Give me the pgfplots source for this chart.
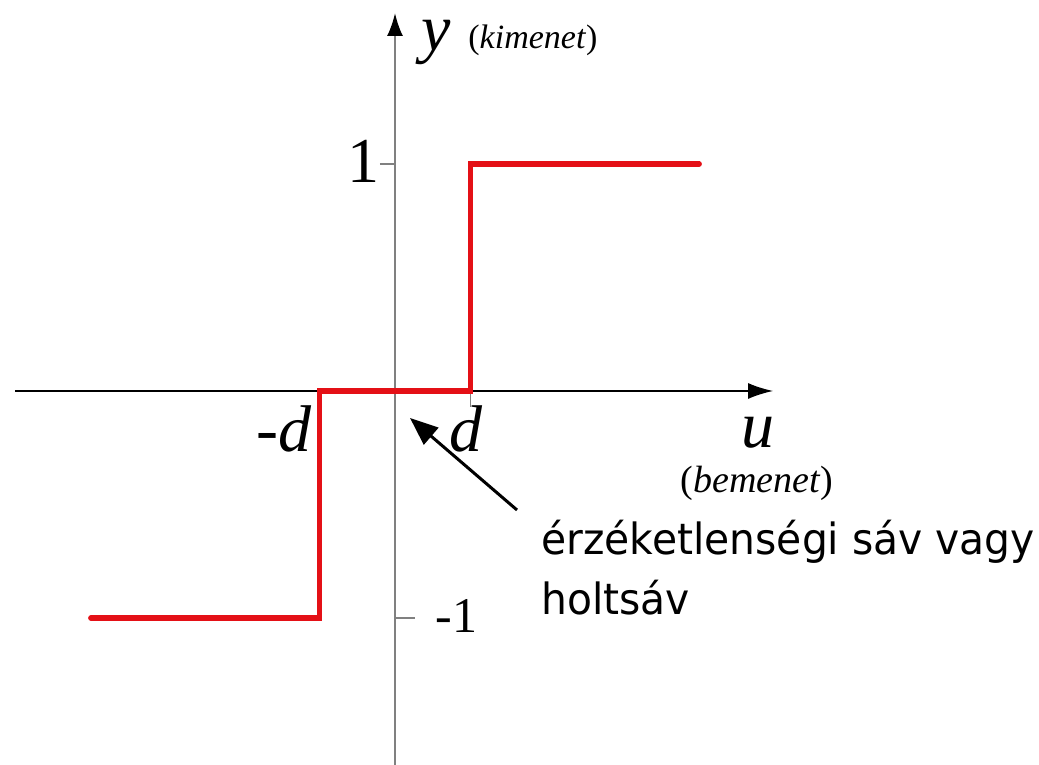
\documentclass[border=0pt]{standalone}
\usepackage{pgfplots}
\pgfplotsset{compat=1.18}
\usetikzlibrary{arrows.meta}
\usepackage{fontspec}
\setmainfont{Liberation Serif}
\newfontfamily\tahoma[FakeStretch=0.95]{DejaVu Sans}
\definecolor{redline}{RGB}{228,16,22}
\definecolor{axgray}{RGB}{128,128,128}
\begin{document}
\begin{tikzpicture}
\useasboundingbox (0,0) rectangle (519.5pt,382.5pt);
\begin{axis}[
  at={(0,0)}, anchor=south west, scale only axis,
  x=37.75pt, y=113.5pt,
  xmin=-5.2318, xmax=8.5298, ymin=-1.6476, ymax=1.7225,
  hide axis, clip=false,
]
% y axis (gray, black arrow head)
\draw[axgray, line width=1.1pt, -{Latex[color=black,length=11.5pt,width=8pt]}] (axis cs:0,-1.6476) -- (axis cs:0,1.6652);
% x axis
\draw[black, line width=0.75pt, -{Latex[length=12.5pt,width=8pt]}] (axis cs:-5.033,0) -- (axis cs:5.007,0);
% ticks
\draw[axgray, line width=0.9pt] (axis cs:-0.199,1) -- (axis cs:0,1);
\draw[axgray, line width=0.9pt] (axis cs:0,-1) -- (axis cs:0.265,-1);
\draw[black!80, line width=0.9pt] (axis cs:-1,0) -- (axis cs:-1,-0.07);
\draw[axgray, line width=0.9pt] (axis cs:1,0) -- (axis cs:1,-0.07);
% dead-zone characteristic
\addplot[redline, line width=2.6pt, line join=miter, line cap=round] coordinates {(-4.03,-1) (-1,-1) (-1,0) (1,0) (1,1) (4.03,1)};
\end{axis}
\begin{scope}[x=0.5pt,y=-0.5pt,shift={(0,382.5pt)}]
\node[anchor=base west, inner sep=0, font=\fontsize{33}{33}\selectfont\itshape] at (421,51) {y};
\node[anchor=base west, inner sep=0, font=\fontsize{17}{17}\selectfont] at (468,49) {(\textit{kimenet})};
\node[anchor=base, inner sep=0, font=\fontsize{32}{32}\selectfont] at (363.5,183) {1};
\node[anchor=base west, inner sep=0, font=\fontsize{25}{25}\selectfont] at (435,633) {-1};
\node[anchor=base, inner sep=0, font=\fontsize{33}{33}\selectfont\itshape] at (284,452) {-d};
\node[anchor=base, inner sep=0, font=\fontsize{33}{33}\selectfont\itshape] at (466,452) {d};
\node[anchor=base, inner sep=0, font=\fontsize{33}{33}\selectfont\itshape] at (758,448) {u};
\node[anchor=base, inner sep=0, font=\fontsize{19}{19}\selectfont] at (757,493) {(\textit{bemenet})};
\draw[black, line width=1.5pt, -{Triangle[length=14pt,width=11pt]}] (517,510) -- (410,418);
\node[anchor=base west, inner sep=0, font=\tahoma\fontsize{21.5}{21.5}\selectfont] at (541,555) {érzéketlenségi sáv vagy};
\node[anchor=base west, inner sep=0, font=\tahoma\fontsize{21.5}{21.5}\selectfont] at (541,615) {holtsáv};
\end{scope}
\end{tikzpicture}
\end{document}
